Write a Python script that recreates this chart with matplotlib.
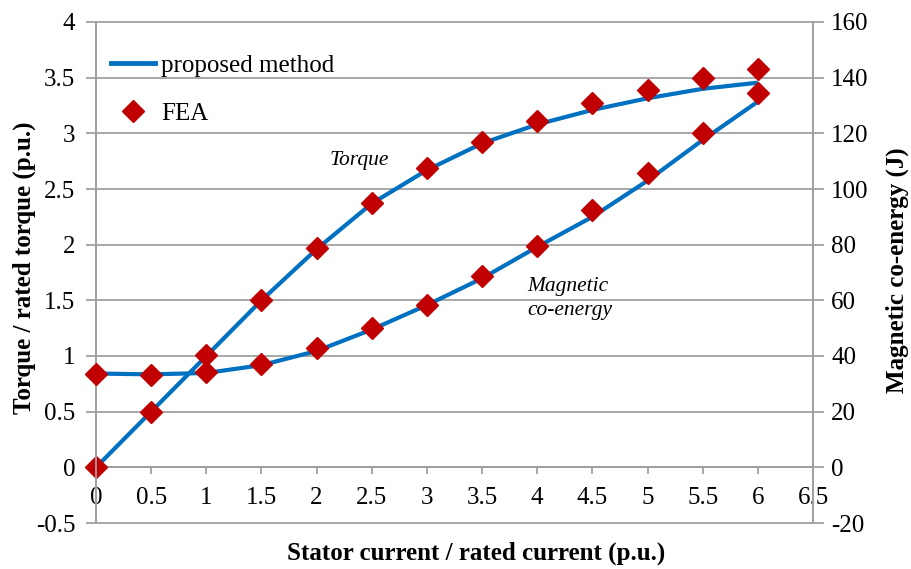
import matplotlib
matplotlib.use("Agg")
import matplotlib.pyplot as plt
from matplotlib.lines import Line2D

plt.rcParams['font.family'] = ['Liberation Serif', 'DejaVu Serif']

# stator current / rated current (p.u.)
x = [0, 0.5, 1, 1.5, 2, 2.5, 3, 3.5, 4, 4.5, 5, 5.5, 6]

# torque / rated torque (p.u.)
torque_model = [0, 0.5, 1.0, 1.5, 1.96, 2.37, 2.67, 2.91, 3.08, 3.21, 3.315, 3.40, 3.455]
torque_fea = [0, 0.5, 1.005, 1.5, 1.97, 2.37, 2.685, 2.925, 3.11, 3.27, 3.385, 3.495, 3.575]

# magnetic co-energy (J)
coenergy_model = [33.7, 33.4, 33.9, 36.7, 41.8, 49.5, 58.3, 67.9, 79.2, 90.0, 103.0, 117.6, 131.4]
coenergy_fea = [33.7, 33.1, 34.1, 37.3, 42.7, 50.1, 58.5, 68.7, 79.7, 92.4, 105.6, 120.0, 134.6]

xticks = [0, 0.5, 1, 1.5, 2, 2.5, 3, 3.5, 4, 4.5, 5, 5.5, 6, 6.5]
yticks_left = [-0.5, 0, 0.5, 1, 1.5, 2, 2.5, 3, 3.5, 4]
yticks_right = [-20, 0, 20, 40, 60, 80, 100, 120, 140, 160]

blue = '#0070C0'
red = '#C00000'
gray = '#A0A0A0'

fig = plt.figure(figsize=(9.11, 5.69), dpi=100)
ax = fig.add_axes([96/911, 1-523/569, (813-96)/911, (523-22)/569])
ax2 = ax.twinx()

ax.set_xlim(0, 6.5)
ax.set_ylim(-0.5, 4)
ax2.set_ylim(-20, 160)

# horizontal grid
for y in yticks_left:
    ax.axhline(y, color=gray, lw=1.3, zorder=0, clip_on=False)

ax.plot(x, torque_model, color=blue, lw=3, zorder=3, solid_capstyle='butt')
ax.plot(x, torque_fea, ls='none', marker='D', ms=11, color=red, mec=red, zorder=4, clip_on=False)
ax2.plot(x, coenergy_model, color=blue, lw=3, zorder=3, solid_capstyle='butt')
ax2.plot(x, coenergy_fea, ls='none', marker='D', ms=11, color=red, mec=red, zorder=4, clip_on=False)

ax.spines['bottom'].set_position(('data', 0))
ax.spines['top'].set_visible(False)
ax2.spines['top'].set_visible(False)
ax2.spines['bottom'].set_visible(False)
for a in (ax, ax2):
    for s in a.spines.values():
        s.set_color(gray)
        s.set_linewidth(1.3)

ax.set_xticks(xticks)
ax.set_xticklabels([f'{t:g}' for t in xticks])
ax.set_yticks(yticks_left)
ax.set_yticklabels([f'{t:g}' for t in yticks_left])
ax2.set_yticks(yticks_right)
ax2.set_yticklabels([f'{t:g}' for t in yticks_right])

ax.tick_params(axis='x', direction='out', length=5, width=1.3, color=gray, labelsize=18, pad=9)
ax.tick_params(axis='y', direction='out', length=7, width=1.3, color=gray, labelsize=18, pad=8)
ax2.tick_params(axis='y', direction='out', length=8, width=1.3, color=gray, labelsize=18, pad=5)

ax.text(2.39, 2.76, 'Torque', fontsize=15.5, style='italic', ha='center', va='center')
ax.text(3.91, 1.62, 'Magnetic', fontsize=15.5, style='italic', ha='left', va='center')
ax.text(3.91, 1.41, 'co-energy', fontsize=15.5, style='italic', ha='left', va='center')

fig.text(476/911, 1-553/569, 'Stator current / rated current (p.u.)', fontsize=18,
         fontweight='bold', ha='center', va='center')
fig.text(24/911, 1-268/569, 'Torque / rated torque (p.u.)', fontsize=18,
         fontweight='bold', ha='center', va='center', rotation=90)
fig.text(897/911, 1-270/569, 'Magnetic co-energy (J)', fontsize=18,
         fontweight='bold', ha='center', va='center', rotation=90)

handles = [Line2D([], [], color=blue, lw=3.5),
           Line2D([], [], ls='none', marker='D', ms=11, color=red)]
leg = ax2.legend(handles, ['proposed method', 'FEA'], loc='upper left',
                 bbox_to_anchor=(-0.01, 0.98), frameon=False, fontsize=18,
                 handlelength=1.75, handletextpad=0.25, labelspacing=1.0)

fig.savefig('out.png', dpi=100)
